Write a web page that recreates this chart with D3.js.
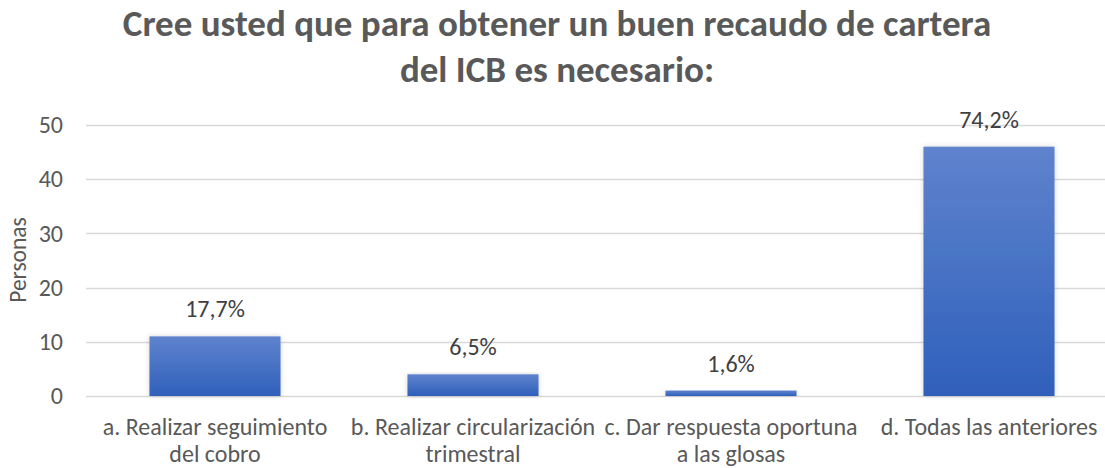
<!DOCTYPE html>
<html>
<head>
<meta charset="utf-8">
<script src="https://cdnjs.cloudflare.com/ajax/libs/d3/7.8.5/d3.min.js"></script>
<style>
  body { margin: 0; background: #fff; }
  svg { display: block; }
</style>
</head>
<body>
<div id="chart"></div>
<script>
// data
var categorias = [
  ["a. Realizar seguimiento", "del cobro"],
  ["b. Realizar circularización", "trimestral"],
  ["c. Dar respuesta oportuna", "a las glosas"],
  ["d. Todas las anteriores"]
];
var personas = [11, 4, 1, 46];
var etiquetas = ["17,7%", "6,5%", "1,6%", "74,2%"];
var ticksY = [0, 10, 20, 30, 40, 50];
var titulo = ["Cree usted que para obtener un buen recaudo de cartera", "del ICB es necesario:"];

var W = 1105, H = 468;
// plot area runs a little past the right edge, like the original
var margin = {top: 125, right: -13, bottom: 72, left: 86};
var fuente = "Carlito, Calibri, 'Open Sans', sans-serif";

var svg = d3.select('#chart').append('svg')
  .attr('width', W)
  .attr('height', H);

var defs = svg.append('defs');
var grad = defs.append('linearGradient')
  .attr('id', 'barGrad')
  .attr('x1', 0).attr('y1', 0).attr('x2', 0).attr('y2', 1);
grad.append('stop').attr('offset', '0%').attr('stop-color', '#5f83cd');
grad.append('stop').attr('offset', '100%').attr('stop-color', '#2f60bb');

var sombra = defs.append('filter').attr('id', 'sombra')
  .attr('x', '-10%').attr('y', '-10%').attr('width', '120%').attr('height', '120%');
sombra.append('feDropShadow')
  .attr('dx', 0).attr('dy', 0).attr('stdDeviation', 2.5)
  .attr('flood-color', '#000').attr('flood-opacity', 0.18);

var x = d3.scaleBand()
  .domain(d3.range(categorias.length))
  .range([margin.left, W - margin.right])
  .paddingInner(0.492)
  .paddingOuter(0.246);

var y = d3.scaleLinear()
  .domain([0, 50])
  .range([H - margin.bottom, margin.top]);

// title
svg.append('g').selectAll('text')
  .data(titulo)
  .enter().append('text')
  .attr('x', 557)
  .attr('y', function(d, i) { return 36 + i * 46; })
  .attr('text-anchor', 'middle')
  .style('font-family', fuente)
  .style('font-size', '37px')
  .style('font-weight', 'bold')
  .style('fill', '#595959')
  .text(function(d) { return d; });

// grid
svg.append('g').selectAll('line')
  .data(ticksY)
  .enter().append('line')
  .attr('x1', margin.left)
  .attr('x2', W)
  .attr('y1', function(d) { return Math.round(y(d)) + 0.5; })
  .attr('y2', function(d) { return Math.round(y(d)) + 0.5; })
  .attr('stroke', '#d9d9d9')
  .attr('stroke-width', 1.5);

// y axis labels
var ejeY = d3.axisLeft(y).tickValues(ticksY).tickSize(0).tickPadding(0);
var gy = svg.append('g')
  .attr('transform', 'translate(' + 63 + ',0)')
  .call(ejeY);
gy.select('.domain').remove();
gy.selectAll('text')
  .style('font-family', fuente)
  .style('font-size', '24px')
  .style('fill', '#595959');

svg.append('text')
  .attr('transform', 'translate(18,' + 260 + ') rotate(-90)')
  .attr('text-anchor', 'middle')
  .attr('dy', '0.35em')
  .style('font-family', fuente)
  .style('font-size', '23.5px')
  .style('fill', '#595959')
  .text('Personas');

// bars
svg.append('g').selectAll('rect')
  .data(personas)
  .enter().append('rect')
  .attr('x', function(d, i) { return x(i); })
  .attr('y', function(d) { return y(d); })
  .attr('width', x.bandwidth())
  .attr('height', function(d) { return y(0) - y(d); })
  .attr('fill', 'url(#barGrad)')
  .attr('filter', 'url(#sombra)');

// data labels
svg.append('g').selectAll('text')
  .data(personas)
  .enter().append('text')
  .attr('x', function(d, i) { return x(i) + x.bandwidth() / 2; })
  .attr('y', function(d) { return y(d) - 19; })
  .attr('text-anchor', 'middle')
  .style('font-family', fuente)
  .style('font-size', '24px')
  .style('fill', '#404040')
  .text(function(d, i) { return etiquetas[i]; });

// x labels
var gx = svg.append('g');
categorias.forEach(function(cat, i) {
  var t = gx.append('text')
    .attr('x', x(i) + x.bandwidth() / 2)
    .attr('y', 435)
    .attr('text-anchor', 'middle')
    .style('font-family', fuente)
    .style('font-size', '24px')
    .style('fill', '#595959');
  cat.forEach(function(linea, j) {
    t.append('tspan')
      .attr('x', x(i) + x.bandwidth() / 2)
      .attr('dy', j === 0 ? 0 : 26.5)
      .text(linea);
  });
});
</script>
</body>
</html>
